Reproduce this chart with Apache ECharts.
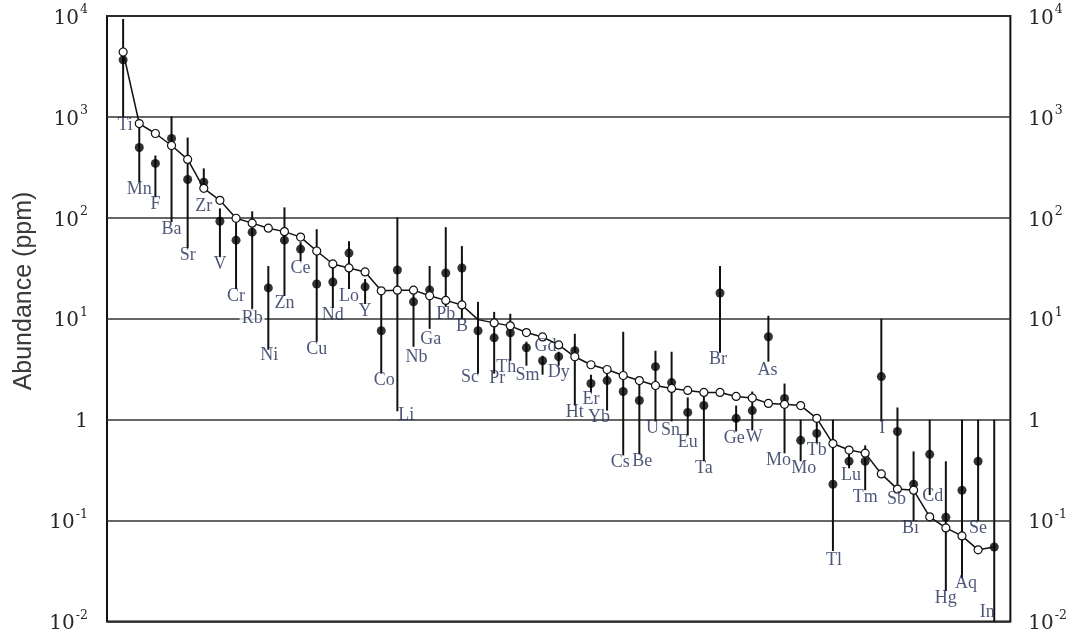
<!DOCTYPE html>
<html><head><meta charset="utf-8">
<script src="https://cdn.jsdelivr.net/npm/echarts@6/dist/echarts.min.js"></script>
<style>html,body{margin:0;padding:0;background:#fff}#c{width:1070px;height:634px}</style>
</head><body><div id="c"></div>
<script>
// Element labels, in plotted order (left to right)
const elements = ['Ti','Mn','F','Ba','Sr','Zr','V','Cr','Rb','Ni','Zn','Ce','Cu','Nd','Lo','Y','Co','Li','Nb','Ga','Pb','B','Sc','Pr','Th','Sm','Gd','Dy','Ht','Er','Yb','Cs','Be','U','Sn','Eu','Ta','Br','Ge','W','As','Mo','Mo','Tb','Tl','Lu','Tm','I','Sb','Bi','Cd','Hg','Aq','Se','In'];
// Filled dots: measured abundance (ppm)
const sampleValues = [3680,498,346,611,240,225,92.5,60.1,72.1,20.2,60.1,49.0,22.1,23.1,44.7,20.7,7.60,30.4,14.7,19.3,28.4,31.8,7.60,6.47,7.26,5.16,3.84,4.21,4.82,2.28,2.44,1.90,1.55,3.35,2.33,1.18,1.38,18.0,1.03,1.23,6.63,1.62,0.624,0.731,0.229,0.387,0.387,2.67,0.764,0.229,0.453,0.108,0.200,0.387,0.0547];
// Range bars: upper and lower ends (ppm)
const rangeHigh = [9340,839,415,1010,625,309,124,99,116,33.3,127,57.4,77.1,34.8,58.7,24.8,18.8,101,18.8,33.3,80.8,52.5,14.7,11.7,11.2,5.92,4.30,4.71,7.10,2.79,3.20,7.43,2.55,4.82,4.71,1.66,1.86,33.3,1.38,1.90,10.7,2.28,1.0,1.03,1.0,0.497,0.556,10,1.32,0.485,1.0,0.387,1.0,1.0,1.0];
const rangeLow = [1000,225,160,90.6,50.1,192,40.8,19.7,12.0,4.93,16.8,37.3,5.92,12.8,19.7,14.0,2.86,1.21,5.28,7.94,13.1,9.98,2.86,2.86,3.84,3.43,2.79,3.43,1.38,1.86,1.23,0.443,0.453,0.96,0.96,0.698,0.387,4.61,0.764,0.782,3.76,0.464,0.387,0.582,0.050,0.330,0.200,0.96,0.209,0.099,0.179,0.0201,0.0270,0.099,0.01];
// Open-circle reference curve (ppm)
const referenceCurve = [4400,860,685,521,379,196,149,99,88.6,79,73,64.4,46.9,34.9,31.9,29.1,18.9,19.2,19.2,16.9,15.2,13.7,9.8,9.1,8.5,7.3,6.6,5.5,4.2,3.5,3.14,2.74,2.44,2.18,2.04,1.95,1.86,1.86,1.70,1.64,1.45,1.42,1.38,1.03,0.58,0.50,0.466,0.29,0.205,0.20,0.109,0.0846,0.0705,0.0513,0.0547];
const yTicks = [0.01,0.1,1,10,100,1000,10000];
const yTitle = 'Abundance (ppm)';

// ---- presentation ----
const hiddenRefMarkers = [22, 54];
// label tweaks by index: [dx, dy] or 'top'
const labelTweak = {0:[2,1],5:[0,10],9:[1,-2],16:[3,0],17:[9,-3],18:[3,3],19:[1,3],22:[-8,-3],23:[3,-2],24:[-4,0],25:[1,3],26:'top',30:[-8,0],31:[-3,0],32:[3,0],33:[-3,0],34:[-1,2],37:[-2,0],38:[-2,0],39:[2,0],40:[-1,2],41:[-6,0],42:[3,0],44:[1,2],45:[2,0],47:[1,0],48:[-1,4],49:[-3,0],50:[3,-6],52:[4,-2],54:[-7,-16]};
const whiteBackLabels = [8];

const labelFont = '"Liberation Serif","Times New Roman",serif';
const tickFont = '"DejaVu Serif",serif';

function tickFmt(v){
  const e = Math.round(Math.log10(v));
  return e === 0 ? '{a|1}' : '{a|10}{s|' + e + '}';
}
const tickRich = {
  a:{fontFamily:tickFont,fontSize:20,color:'#262626',lineHeight:25,verticalAlign:'bottom'},
  s:{fontFamily:tickFont,fontSize:12.5,color:'#262626',lineHeight:25,verticalAlign:'top',padding:[0,0,0,1]}
};

const idx = elements.map((_, i) => i);
const labelData = idx.map(i => {
  const t = labelTweak[i];
  if (t === 'top') {
    return {name: elements[i], value:[i, rangeHigh[i]], label:{position:'top', distance:0, offset:[3,0]}};
  }
  const item = {name: elements[i], value:[i, rangeLow[i]]};
  const lab = {};
  if (t) lab.offset = t;
  if (whiteBackLabels.includes(i)) { lab.backgroundColor = '#fff'; lab.padding = [0,2]; }
  if (Object.keys(lab).length) item.label = lab;
  return item;
});

const chart = echarts.init(document.getElementById('c'), null, {renderer:'canvas'});
chart.setOption({
  animation:false,
  backgroundColor:'#fff',
  grid:{left:107,right:58,top:16,bottom:11,show:true,borderColor:'#111',borderWidth:2,backgroundColor:'transparent'},
  xAxis:{type:'value',min:-1,max:55,show:false},
  yAxis:[
    {type:'log',logBase:10,min:yTicks[0],max:yTicks[yTicks.length-1],position:'left',
     axisLine:{show:false},axisTick:{show:false},
     splitLine:{show:true,lineStyle:{color:'#333',width:1.5}},
     axisLabel:{margin:19,formatter:tickFmt,rich:tickRich}},
    {type:'log',logBase:10,min:yTicks[0],max:yTicks[yTicks.length-1],position:'right',
     axisLine:{show:false},axisTick:{show:false},splitLine:{show:false},
     axisLabel:{margin:18,formatter:tickFmt,rich:tickRich}}
  ],
  graphic:[{type:'text',x:24,y:291,rotation:Math.PI/2,
    style:{text:yTitle,font:'25px "Liberation Sans Narrow","Liberation Sans",sans-serif',fill:'#3a3a3a',textAlign:'center',textVerticalAlign:'middle'},
    scaleX:1.0}],
  series:[
    {type:'custom',name:'range',z:2,
     data: idx.map(i => [i, rangeLow[i], rangeHigh[i]]),
     encode:{x:0,y:[1,2]},
     renderItem:(params, api) => {
       const x = api.value(0);
       const p1 = api.coord([x, api.value(1)]);
       const p2 = api.coord([x, api.value(2)]);
       return {type:'line',shape:{x1:p1[0],y1:p1[1],x2:p2[0],y2:p2[1]},style:{stroke:'#111',lineWidth:2}};
     }},
    {type:'scatter',name:'sample',z:3,symbol:'circle',symbolSize:9,
     itemStyle:{color:'#000'},
     data: idx.map(i => [i, sampleValues[i]])},
    {type:'line',name:'reference',z:4,symbol:'circle',symbolSize:8,showAllSymbol:true,
     lineStyle:{color:'#111',width:1.5},
     itemStyle:{color:'#fff',borderColor:'#111',borderWidth:1.2},
     data: idx.map(i => hiddenRefMarkers.includes(i) ? {value:[i, referenceCurve[i]], symbolSize:0} : [i, referenceCurve[i]])},
    {type:'scatter',name:'labels',z:6,symbolSize:0.1,
     itemStyle:{color:'rgba(0,0,0,0)'},
     label:{show:true,position:'bottom',distance:-2,formatter:'{b}',
       fontFamily:labelFont,fontSize:18,color:'#1f2a55'},
     data: labelData}
  ]
});
</script>
</body></html>
